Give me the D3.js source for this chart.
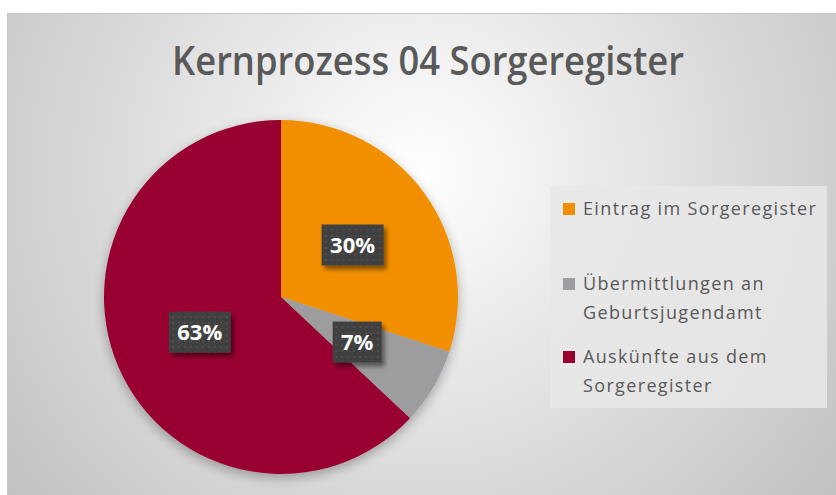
<!DOCTYPE html>
<html>
<head>
<meta charset="utf-8">
<script src="https://cdn.jsdelivr.net/npm/d3@7"></script>
<style>
  html, body { margin: 0; padding: 0; background: #fff; }
  svg { display: block; }
</style>
</head>
<body>
<svg id="chart" width="836" height="495"></svg>
<script>
// data
const categories = ['Eintrag im Sorgeregister', 'Übermittlungen an Geburtsjugendamt', 'Auskünfte aus dem Sorgeregister'];
const legendLines = [['Eintrag im Sorgeregister'], ['Übermittlungen an', 'Geburtsjugendamt'], ['Auskünfte aus dem', 'Sorgeregister']];
const values = [30, 7, 63];
const colors = ['#f18f00', '#9d9d9f', '#990030'];
const title = 'Kernprozess 04 Sorgeregister';

const svg = d3.select('#chart');
const defs = svg.append('defs');

const bg = defs.append('radialGradient').attr('id', 'bg')
  .attr('gradientUnits', 'userSpaceOnUse')
  .attr('cx', 420).attr('cy', 170).attr('r', 540);
bg.append('stop').attr('offset', '0%').attr('stop-color', '#ffffff');
bg.append('stop').attr('offset', '100%').attr('stop-color', '#c0c0c0');

const pieShadow = defs.append('filter').attr('id', 'pieShadow')
  .attr('x', '-20%').attr('y', '-20%').attr('width', '140%').attr('height', '140%');
pieShadow.append('feGaussianBlur').attr('in', 'SourceAlpha').attr('stdDeviation', 6);
pieShadow.append('feOffset').attr('dx', 0).attr('dy', 4).attr('result', 'b');
pieShadow.append('feComponentTransfer').append('feFuncA').attr('type', 'linear').attr('slope', 0.3);
const pm = pieShadow.append('feMerge');
pm.append('feMergeNode');
pm.append('feMergeNode').attr('in', 'SourceGraphic');

const boxShadow = defs.append('filter').attr('id', 'boxShadow')
  .attr('x', '-30%').attr('y', '-30%').attr('width', '160%').attr('height', '160%');
boxShadow.append('feGaussianBlur').attr('in', 'SourceAlpha').attr('stdDeviation', 2);
boxShadow.append('feOffset').attr('dx', 3).attr('dy', 4);
boxShadow.append('feComponentTransfer').append('feFuncA').attr('type', 'linear').attr('slope', 0.45);
const bm = boxShadow.append('feMerge');
bm.append('feMergeNode');
bm.append('feMergeNode').attr('in', 'SourceGraphic');

const dots = defs.append('pattern').attr('id', 'dots')
  .attr('patternUnits', 'userSpaceOnUse').attr('width', 6).attr('height', 6);
dots.append('rect').attr('width', 6).attr('height', 6).attr('fill', '#404040');
dots.append('rect').attr('x', 2).attr('y', 2).attr('width', 2).attr('height', 2).attr('fill', '#4f4f4f');

// chart area
svg.append('rect')
  .attr('x', 7.5).attr('y', 13.5).attr('width', 836).attr('height', 490)
  .attr('fill', 'url(#bg)').attr('stroke', '#c6c6c6');

svg.append('text')
  .attr('x', 428).attr('y', 75)
  .attr('text-anchor', 'middle')
  .attr('font-family', 'Open Sans, sans-serif')
  .attr('font-weight', 600)
  .attr('font-size', 39)
  .attr('fill', '#595959')
  .attr('textLength', 512).attr('lengthAdjust', 'spacingAndGlyphs')
  .text(title);

// pie
const cx = 281, cy = 297, R = 177;
const pie = d3.pie().sort(null).value(d => d);
const arcs = pie(values);
const arc = d3.arc().innerRadius(0).outerRadius(R);
const labelArc = d3.arc().innerRadius(R * 0.5).outerRadius(R * 0.5);

const g = svg.append('g').attr('transform', `translate(${cx},${cy})`);
g.append('g').attr('filter', 'url(#pieShadow)')
  .selectAll('path').data(arcs).enter().append('path')
  .attr('d', arc)
  .attr('fill', (d, i) => colors[i]);

const fmt = d3.format('.0%');
const total = d3.sum(values);
const labels = g.selectAll('.lbl').data(arcs).enter().append('g')
  .attr('class', 'lbl')
  .attr('transform', d => `translate(${labelArc.centroid(d)})`);

labels.each(function(d) {
  const el = d3.select(this);
  const txt = fmt(d.data / total);
  const w = txt.length === 2 ? 49 : 62, h = 41;
  el.append('rect')
    .attr('x', -w / 2).attr('y', -h / 2).attr('width', w).attr('height', h)
    .attr('fill', 'url(#dots)')
    .attr('filter', 'url(#boxShadow)');
  el.append('text')
    .attr('text-anchor', 'middle')
    .attr('y', 8)
    .attr('font-family', 'Open Sans, sans-serif')
    .attr('font-weight', 700)
    .attr('font-size', 22)
    .attr('fill', '#ffffff')
    .text(txt);
});

// legend
const lg = svg.append('g');
lg.append('rect')
  .attr('x', 550).attr('y', 186).attr('width', 277).attr('height', 222)
  .attr('fill', '#e8e8e8').attr('opacity', 0.85);

const itemY = [215, 290, 363];
const lineH = 28.5;
const items = lg.selectAll('.item').data(categories).enter().append('g')
  .attr('class', 'item')
  .attr('transform', (d, i) => `translate(563,${itemY[i]})`);
items.append('rect')
  .attr('x', 0).attr('y', -12).attr('width', 12).attr('height', 12)
  .attr('fill', (d, i) => colors[i]);
items.each(function(d, i) {
  const t = d3.select(this).append('text')
    .attr('font-family', 'Open Sans, sans-serif')
    .attr('font-size', 18)
    .attr('letter-spacing', 1.35)
    .attr('fill', '#595959');
  legendLines[i].forEach((line, j) => {
    t.append('tspan').attr('x', 20).attr('y', j * lineH).text(line);
  });
});
</script>
</body>
</html>
